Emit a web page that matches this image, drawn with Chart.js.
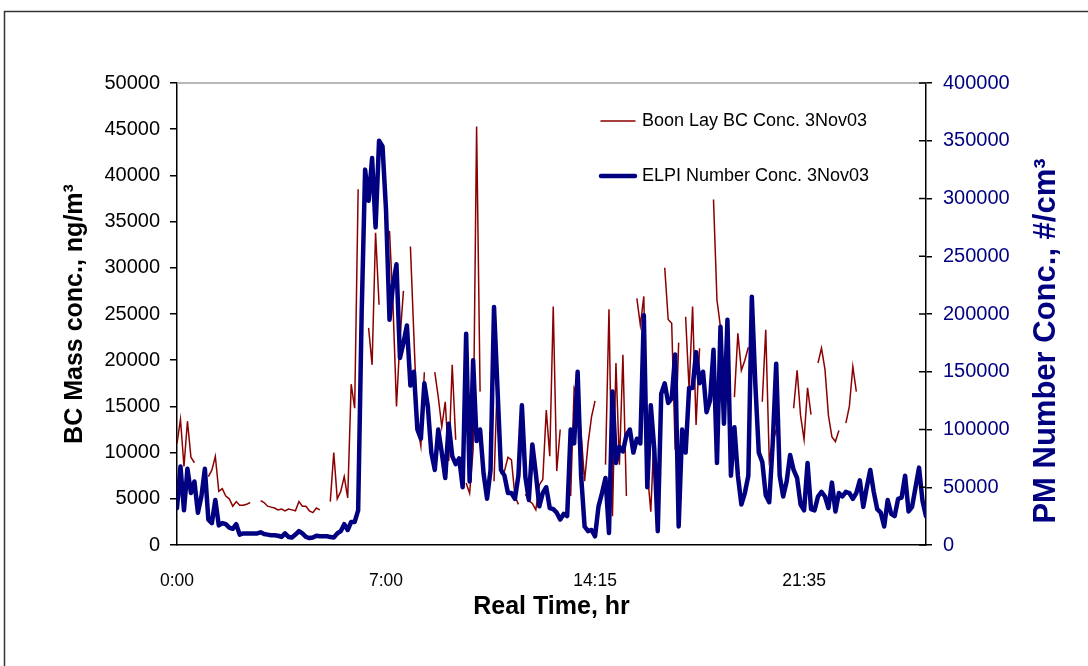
<!DOCTYPE html>
<html>
<head>
<meta charset="utf-8">
<script src="https://cdn.jsdelivr.net/npm/chart.js@4.4.0/dist/chart.umd.min.js"></script>
<style>
html, body { margin: 0; padding: 0; background: #fff; }
</style>
</head>
<body>
<canvas id="myChart" width="1088" height="666"></canvas>
<script>
// x axis: sample index, with a time label every 60 samples
const xTickAt = [0, 60, 120, 180];
const xTickText = ['0:00', '7:00', '14:15', '21:35'];

const leftTicks = [0, 50000, 5000];      // min, max, step
const rightTicks = [0, 400000, 50000];

// Boon Lay BC mass conc. (ng/m3), null = no reading
const bcConc = [
  11000, 13600, 8500, 13400, 9500, 8900, null, null, null, 7400,
  8100, 9600, 5800, 6100, 5300, 5000, 4200, 4700, 4300, 4300,
  4400, 4600, null, null, 4800, 4600, 4200, 4100, 4000, 3800,
  3900, 3700, 3900, 3800, 3700, 4700, 4200, 4200, 3700, 3500,
  4000, 3800, null, null, 4700, 10000, 5000, 5800, 7400, 5100,
  17400, 14800, 38500, null, null, 23500, 19500, 33800, 26000, null,
  null, 34000, 26000, 15000, 22300, 27500, null, 32300, 22600, 13000,
  10700, 18700, null, null, 18700, 16000, 12800, 15500, 9100, 19500,
  11400, null, null, 6700, 5600, 10300, 45300, 16600, null, null,
  null, 6900, 18400, 7800, 8000, 9500, 9200, 5300, 4400, null,
  5500, 4800, 4500, 3800, 6500, 7100, 14600, 9600, 25800, 8000,
  12500, null, null, 5300, 17000, 16100, 12100, 6900, 11000, 13900,
  15600, null, null, 8700, 25500, 3100, 19700, 8700, 20600, 5300,
  null, null, 26700, 23800, 26900, 8000, 3600, 12500, null, null,
  30000, 24400, 24000, 10300, 21900, null, 24700, 16800, 25800, 13000,
  21300, null, null, null, 37400, 26500, 23600, 17000, null, null,
  16000, 22900, 18900, 20000, 21400, null, null, null, 15500, 23300,
  9200, 11000, 12500, 13500, null, null, null, 14800, 18900, 14000,
  11400, 17000, 14100, null, 19700, 21300, 19000, 14000, 11700, 11200,
  12400, null, 13200, 15000, 19300, 16600, null, null, null, null,
  null, null, null, null, null, null, null, null, null, null,
  null, null, null, null, null, null
];

// ELPI number conc. (#/cm3)
const elpiConc = [
  32000, 68000, 30000, 66000, 45000, 55000, 28000, 42000, 66000, 22000,
  19000, 39000, 17000, 19000, 18000, 15000, 14000, 18000, 9000, 10000,
  10000, 10000, 10000, 10000, 11000, 9500, 9000, 8500, 8500, 8000,
  7000, 10000, 7000, 6500, 9000, 12000, 10000, 7000, 6000, 6500,
  8000, 7500, 7500, 7500, 7000, 6500, 10000, 12000, 18000, 13000,
  20000, 20000, 30000, 200000, 325000, 298000, 335000, 275000, 350000, 345000,
  290000, 195000, 225000, 243000, 162000, 175000, 190000, 138000, 150000, 100000,
  92000, 140000, 120000, 80000, 65000, 100000, 80000, 58000, 105000, 77000,
  70000, 75000, 50000, 183000, 55000, 160000, 90000, 100000, 62000, 40000,
  65000, 206000, 135000, 65000, 60000, 45000, 45000, 40000, 60000, 121000,
  59000, 39000, 87000, 62000, 33500, 45000, 50000, 32000, 31000, 28000,
  22000, 27000, 25000, 100000, 88000, 150000, 60000, 16000, 12000, 13000,
  7500, 33500, 45000, 58000, 10400, 133000, 71000, 85000, 81000, 95000,
  100000, 80000, 92000, 88000, 199000, 50000, 121000, 83000, 12000, 131000,
  140000, 123000, 127000, 165000, 16000, 100000, 80000, 136000, 136000, 167000,
  140000, 150000, 115000, 125000, 169000, 71000, 189000, 105000, 195000, 60000,
  102000, 60000, 35000, 45000, 60000, 215000, 140000, 80000, 72000, 43000,
  37000, 88000, 157000, 60000, 42000, 55000, 78000, 65000, 58000, 35000,
  30000, 71000, 31000, 30000, 42000, 46000, 42000, 32000, 54000, 29000,
  45000, 42000, 46000, 45000, 40000, 45000, 56000, 33000, 50000, 65000,
  46000, 31000, 28000, 16000, 39000, 27000, 25000, 40000, 41000, 60000,
  29000, 33000, 50000, 67000, 38000, 25000
];

const FONT = "'Liberation Sans', Arial, sans-serif";
const rightTitle = 'PM Number Conc., #/cm\u00B3';

const decor = {
  id: 'decor',
  beforeDraw(chart) {
    const ctx = chart.ctx;
    ctx.save();
    ctx.fillStyle = '#fff';
    ctx.fillRect(0, 0, chart.width, chart.height);
    ctx.strokeStyle = '#333';
    ctx.lineWidth = 1.5;
    ctx.strokeRect(4.5, 11.5, chart.width + 20, chart.height + 20);
    ctx.restore();
  },
  afterDraw(chart) {
    const ctx = chart.ctx;
    const a = chart.chartArea;
    const y2 = chart.scales.y2;
    ctx.save();
    // grey top edge of plot area
    ctx.strokeStyle = '#a0a0a0';
    ctx.lineWidth = 1.5;
    ctx.beginPath();
    ctx.moveTo(a.left, a.top);
    ctx.lineTo(a.right, a.top);
    ctx.stroke();
    // right axis ticks cross the axis line
    ctx.strokeStyle = '#000';
    ctx.beginPath();
    y2.ticks.forEach(t => {
      const py = y2.getPixelForValue(t.value);
      ctx.moveTo(a.right - 7, py);
      ctx.lineTo(a.right, py);
    });
    ctx.stroke();
    // right axis title, reading bottom to top
    ctx.translate(1046, 341);
    ctx.rotate(-Math.PI / 2);
    ctx.font = 'bold 31px ' + FONT;
    ctx.fillStyle = '#000080';
    ctx.textAlign = 'center';
    ctx.textBaseline = 'middle';
    ctx.fillText(rightTitle, 0, 0);
    ctx.restore();

    // legend inside the plot
    ctx.save();
    ctx.font = '18px ' + FONT;
    ctx.textBaseline = 'middle';
    ctx.fillStyle = '#000';
    const rows = [121, 176];
    chart.data.datasets.forEach((ds, i) => {
      const ly = rows[i];
      ctx.strokeStyle = ds.borderColor;
      ctx.lineWidth = ds.borderWidth;
      ctx.lineCap = 'round';
      ctx.beginPath();
      ctx.moveTo(601, ly);
      ctx.lineTo(635, ly);
      ctx.stroke();
      ctx.fillText(ds.label, 642, ly);
    });
    ctx.restore();
  }
};

new Chart(document.getElementById('myChart'), {
  type: 'line',
  data: {
    datasets: [{
      label: 'Boon Lay BC Conc. 3Nov03',
      data: bcConc.map((v, i) => ({ x: i, y: v })),
      borderColor: '#8b0000',
      borderWidth: 1.5,
      pointRadius: 0,
      spanGaps: false,
      yAxisID: 'y',
      order: 1
    }, {
      label: 'ELPI Number Conc. 3Nov03',
      data: elpiConc.map((v, i) => ({ x: i, y: v })),
      borderColor: '#000080',
      borderWidth: 4.5,
      borderJoinStyle: 'round',
      borderCapStyle: 'round',
      pointRadius: 0,
      yAxisID: 'y2',
      order: 0
    }]
  },
  options: {
    responsive: false,
    animation: false,
    layout: { padding: { top: 83, left: 0, right: 0, bottom: 0 } },
    plugins: {
      legend: { display: false },
      tooltip: { enabled: false }
    },
    scales: {
      x: {
        type: 'linear',
        min: 0,
        max: elpiConc.length - 1,
        afterBuildTicks: (s) => { s.ticks = xTickAt.map(v => ({ value: v })); },
        afterFit: (s) => { s.height = 121; },
        ticks: {
          callback: (v) => xTickText[xTickAt.indexOf(v)],
          autoSkip: false,
          maxRotation: 0,
          padding: 26,
          color: '#000',
          font: { family: FONT, size: 17.5 }
        },
        grid: { display: true, drawOnChartArea: false, drawTicks: false },
        border: { display: true, color: '#000', width: 1.5 },
        title: {
          display: true,
          text: 'Real Time, hr',
          color: '#000',
          font: { family: FONT, size: 25, weight: 'bold' },
          padding: { top: 0, bottom: 44 }
        }
      },
      y: {
        position: 'left',
        min: leftTicks[0],
        max: leftTicks[1],
        afterFit: (s) => { s.width = 177; },
        ticks: {
          stepSize: leftTicks[2],
          callback: (v) => String(v),
          padding: 10,
          color: '#000',
          font: { family: FONT, size: 20 }
        },
        grid: { drawOnChartArea: false, drawTicks: true, tickLength: 7, color: '#000', lineWidth: 1.5 },
        border: { display: true, color: '#000', width: 1.5 },
        title: {
          display: true,
          text: 'BC Mass conc., ng/m\u00B3',
          color: '#000',
          font: { family: FONT, size: 25, weight: 'bold' },
          padding: { top: 60, bottom: 0 }
        }
      },
      y2: {
        position: 'right',
        min: rightTicks[0],
        max: rightTicks[1],
        afterFit: (s) => { s.width = 162; },
        ticks: {
          stepSize: rightTicks[2],
          callback: (v) => String(v),
          padding: 11,
          color: '#000080',
          font: { family: FONT, size: 20 }
        },
        grid: { drawOnChartArea: false, drawTicks: true, tickLength: 6, color: '#000', lineWidth: 1.5 },
        border: { display: true, color: '#000', width: 1.5 }
      }
    }
  },
  plugins: [decor]
});
</script>
</body>
</html>
